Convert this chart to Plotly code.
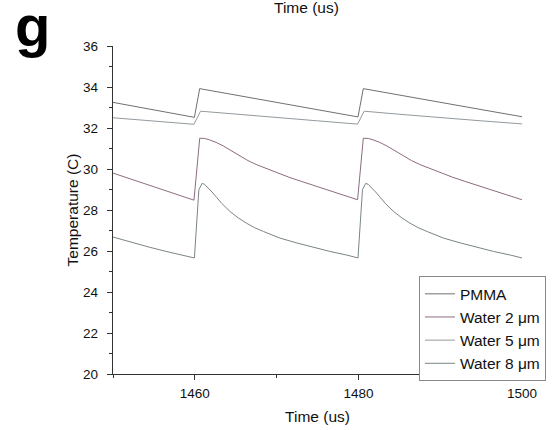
import plotly.graph_objects as go

# ---- data ----
series_names = ["PMMA", "Water 2 \u03bcm", "Water 5 \u03bcm", "Water 8 \u03bcm"]
series_colors = ["#707070", "#8e6a82", "#939a9f", "#7a8584"]

pmma_x = [1450, 1455, 1459.95, 1460.6, 1465, 1470, 1475, 1479.95, 1480.6, 1485, 1490, 1495, 1500]
pmma_y = [33.25, 32.88, 32.52, 33.92, 33.6, 33.25, 32.88, 32.54, 33.92, 33.6, 33.25, 32.9, 32.55]

w2_x = [1450, 1451.5, 1453, 1454.5, 1456, 1457.5, 1459, 1459.9, 1460.6, 1461.2, 1461.8, 1462.6,
        1463.5, 1464.5, 1465.5, 1466.5, 1467.5, 1468.4, 1469.2, 1470, 1471.5, 1473, 1474.5, 1476,
        1477.5, 1479, 1479.9, 1480.6, 1481.2, 1481.8, 1482.6, 1483.5, 1484.5, 1485.5, 1486.5,
        1487.5, 1488.4, 1489.2, 1490, 1491.5, 1493, 1494.5, 1496, 1497.5, 1499, 1500]
w2_y = [29.8, 29.6, 29.4, 29.2, 29.01, 28.82, 28.62, 28.48, 31.5, 31.49, 31.42, 31.3,
        31.12, 30.88, 30.62, 30.41, 30.22, 30.08, 29.96, 29.82, 29.6, 29.4, 29.2, 29.01,
        28.82, 28.62, 28.5, 31.5, 31.49, 31.42, 31.3, 31.12, 30.88, 30.62, 30.41,
        30.22, 30.08, 29.96, 29.82, 29.6, 29.4, 29.2, 29.01, 28.82, 28.62, 28.5]

w5_x = [1450, 1455, 1459.9, 1460.7, 1465, 1470, 1475, 1479.9, 1480.7, 1485, 1490, 1495, 1500]
w5_y = [32.5, 32.35, 32.18, 32.82, 32.67, 32.5, 32.35, 32.19, 32.82, 32.67, 32.5, 32.35, 32.2]

w8_x = [1450, 1452.5, 1454.5, 1456.5, 1458.6, 1459.95, 1460.5, 1460.9, 1461.2, 1461.6, 1462.1,
        1462.7, 1463.3, 1464.3, 1465.3, 1466.3, 1467.3, 1468.4, 1470.4, 1472.5, 1474.5, 1476.5,
        1478.6, 1479.95, 1480.5, 1480.9, 1481.2, 1481.6, 1482.1, 1482.7, 1483.3, 1484.3, 1485.3,
        1486.3, 1487.3, 1488.4, 1490.4, 1492.5, 1494.5, 1496.5, 1498.6, 1500]
w8_y = [26.68, 26.39, 26.18, 25.98, 25.8, 25.66, 29.0, 29.3, 29.25, 29.1, 28.88,
        28.6, 28.32, 27.93, 27.62, 27.36, 27.14, 26.95, 26.63, 26.39, 26.18, 25.98,
        25.8, 25.66, 29.0, 29.3, 29.25, 29.1, 28.88, 28.6, 28.32, 27.93, 27.62,
        27.36, 27.14, 26.95, 26.63, 26.39, 26.18, 25.98, 25.8, 25.66]

xs = [pmma_x, w2_x, w5_x, w8_x]
ys = [pmma_y, w2_y, w5_y, w8_y]

x_range = [1450, 1500]
y_range = [20, 36]
x_tickvals = [1460, 1480, 1500]
y_tickvals = [20, 22, 24, 26, 28, 30, 32, 34, 36]

FONT = "Arial, Liberation Sans, sans-serif"

fig = go.Figure()
for i, name in enumerate(series_names):
    fig.add_trace(go.Scatter(
        x=xs[i], y=ys[i], mode="lines", name=name,
        line=dict(color=series_colors[i], width=1),
    ))

axis_common = dict(
    showline=True, linecolor="#333333", linewidth=1.3, mirror=False,
    showgrid=False, zeroline=False, automargin=False,
    ticks="outside", ticklen=5, tickwidth=1.2, tickcolor="#333333",
    tickfont=dict(family=FONT, size=13.5, color="#111111"),
)

fig.update_xaxes(
    range=x_range, tickmode="array", tickvals=x_tickvals,
    minor=dict(ticks="outside", ticklen=3, tickwidth=1.2, tickcolor="#333333", dtick=10, tick0=1450),
    title=dict(text="Time (us)", font=dict(family=FONT, size=15.5, color="#111111"), standoff=10),
    ticklabelstandoff=2,
    **axis_common,
)
fig.update_yaxes(
    range=y_range, tickmode="array", tickvals=y_tickvals,
    minor=dict(ticks="outside", ticklen=3, tickwidth=1.2, tickcolor="#333333", dtick=1, tick0=20),
    title=dict(text="Temperature (C)", font=dict(family=FONT, size=15.5, color="#111111"), standoff=0),
    ticklabelstandoff=6,
    **axis_common,
)

fig.add_annotation(text="Time (us)", xref="paper", yref="paper", x=0.472, y=1.118,
                   xanchor="center", yanchor="middle", showarrow=False,
                   font=dict(family=FONT, size=15.5, color="#111111"))
fig.add_annotation(text="<b>g</b>", xref="paper", yref="paper", x=-0.198, y=1.064,
                   xanchor="center", yanchor="middle", showarrow=False,
                   font=dict(family=FONT, size=58, color="#000000"))

fig.update_layout(
    width=552, height=430,
    margin=dict(l=113, r=30, t=46, b=55.5, autoexpand=False),
    paper_bgcolor="white", plot_bgcolor="white",
    showlegend=True,
    legend=dict(x=0.748, y=0.298, xanchor="left", yanchor="top",
                bordercolor="#8a8a8a", borderwidth=1, bgcolor="white",
                font=dict(family=FONT, size=15.5, color="#111111"),
                tracegroupgap=0, itemwidth=30),
)

fig.write_html("out.html", config={"displayModeBar": False},
               post_script="document.body.style.margin='0';")
